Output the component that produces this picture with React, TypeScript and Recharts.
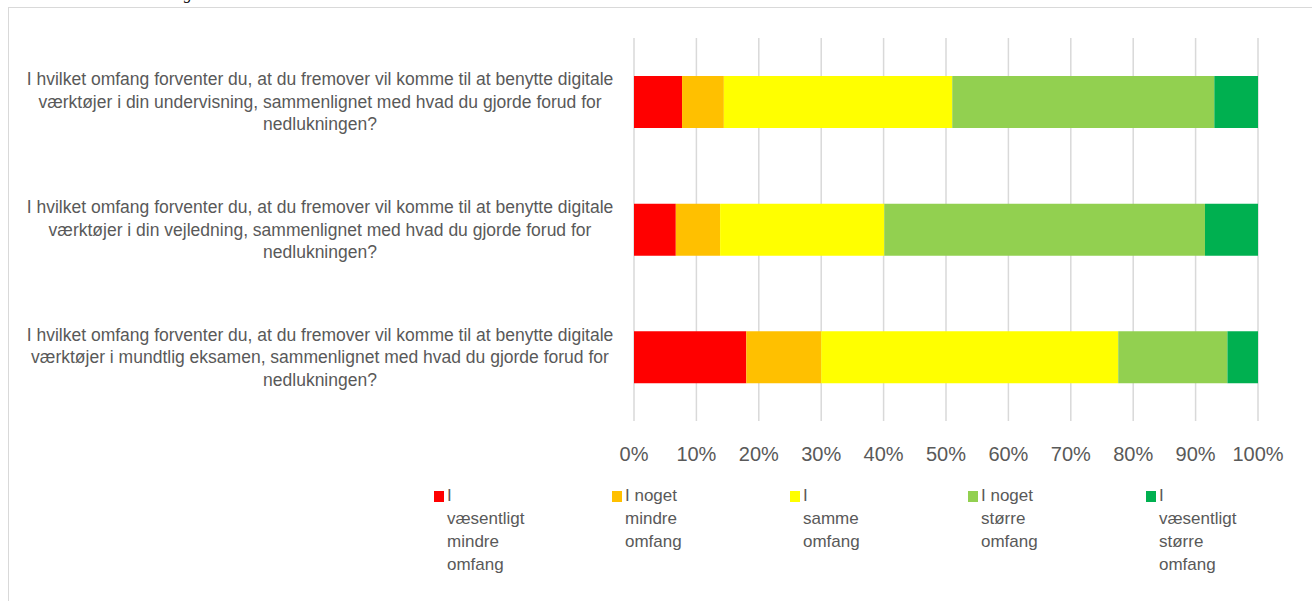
import React from "react";
import { BarChart, Bar, XAxis, YAxis, CartesianGrid } from "recharts";

const categories = [
  "I hvilket omfang forventer du, at du fremover vil komme til at benytte digitale\nværktøjer i din undervisning, sammenlignet med hvad du gjorde forud for\nnedlukningen?",
  "I hvilket omfang forventer du, at du fremover vil komme til at benytte digitale\nværktøjer i din vejledning, sammenlignet med hvad du gjorde forud for\nnedlukningen?",
  "I hvilket omfang forventer du, at du fremover vil komme til at benytte digitale\nværktøjer i mundtlig eksamen, sammenlignet med hvad du gjorde forud for\nnedlukningen?",
];

const vaesentligtMindre = [7.7, 6.7, 18.0];
const nogetMindre = [6.7, 7.1, 12.0];
const samme = [36.6, 26.3, 47.6];
const nogetStoerre = [42.0, 51.4, 17.5];
const vaesentligtStoerre = [7.0, 8.5, 4.9];

const seriesNames = [
  "I væsentligt mindre omfang",
  "I noget mindre omfang",
  "I samme omfang",
  "I noget større omfang",
  "I væsentligt større omfang",
];
const legendLines = [
  ["I", "væsentligt", "mindre", "omfang"],
  ["I noget", "mindre", "omfang"],
  ["I", "samme", "omfang"],
  ["I noget", "større", "omfang"],
  ["I", "væsentligt", "større", "omfang"],
];
const seriesColors = ["#FF0000", "#FFC000", "#FFFF00", "#92D050", "#00B050"];
const seriesKeys = ["s0", "s1", "s2", "s3", "s4"];
const seriesValues = [vaesentligtMindre, nogetMindre, samme, nogetStoerre, vaesentligtStoerre];

const xTicks = [0, 10, 20, 30, 40, 50, 60, 70, 80, 90, 100];

const data = categories.map((q, i) => {
  const row: any = { q };
  seriesKeys.forEach((k, j) => {
    row[k] = seriesValues[j][i];
  });
  return row;
});

const FONT = "'Liberation Sans', Arial, sans-serif";

const CategoryTick = (props: any) => {
  const { y, payload } = props;
  const lines = String(payload.value).split("\n");
  const lh = 22.5;
  const start = -((lines.length - 1) * lh) / 2;
  return (
    <text
      x={320}
      y={y}
      textAnchor="middle"
      fill="#595959"
      fontSize={17.5}
      fontFamily={FONT}
    >
      {lines.map((l, i) => (
        <tspan key={i} x={320} y={y + start + i * lh} dy="0.35em">
          {l}
        </tspan>
      ))}
    </text>
  );
};

export default function App() {
  return (
    <div style={{ position: "absolute", left: 0, top: 0, width: 1312, height: 601, overflow: "hidden", background: "#fff" }}>
      <div
        style={{
          position: "absolute",
          left: 184,
          top: -15,
          fontFamily: "'Liberation Serif', serif",
          fontStyle: "italic",
          fontSize: 16,
          color: "#000",
        }}
      >
        g
      </div>
      <div
        style={{
          position: "absolute",
          left: 8,
          top: 7,
          width: 1310,
          height: 600,
          border: "1.5px solid #d9d9d9",
          boxSizing: "border-box",
        }}
      />
      <div style={{ position: "absolute", left: 0, top: 0 }}>
        <BarChart
          width={1312}
          height={601}
          data={data}
          layout="vertical"
          margin={{ top: 38, right: 54, bottom: 120, left: 0 }}
          barSize={52}
        >
          <CartesianGrid horizontal={false} vertical={true} stroke="#d9d9d9" strokeWidth={1.5} />
          <XAxis
            type="number"
            domain={[0, 100]}
            ticks={xTicks}
            tickFormatter={(v: number) => `${v}%`}
            axisLine={false}
            tickLine={false}
            tickSize={0}
            tickMargin={26}
            height={60}
            interval={0}
            tick={{ fill: "#595959", fontSize: 20, fontFamily: FONT }}
          />
          <YAxis
            type="category"
            dataKey="q"
            width={634}
            axisLine={false}
            tickLine={false}
            interval={0}
            tick={<CategoryTick />}
          />
          {seriesKeys.map((k, j) => (
            <Bar
              key={k}
              dataKey={k}
              name={seriesNames[j]}
              stackId="a"
              fill={seriesColors[j]}
              isAnimationActive={false}
            />
          ))}
        </BarChart>
      </div>
      <div style={{ position: "absolute", left: 434, top: 484, display: "flex", fontFamily: FONT, fontSize: 17, color: "#595959" }}>
        {seriesNames.map((n, j) => (
          <div key={n} title={n} style={{ width: 178, position: "relative", lineHeight: "23px" }}>
            <div
              style={{
                position: "absolute",
                left: 0,
                top: 7,
                width: 10,
                height: 11,
                background: seriesColors[j],
              }}
            />
            <div style={{ marginLeft: 13 }}>
              {legendLines[j].map((l, i) => (
                <div key={i}>{l}</div>
              ))}
            </div>
          </div>
        ))}
      </div>
    </div>
  );
}
